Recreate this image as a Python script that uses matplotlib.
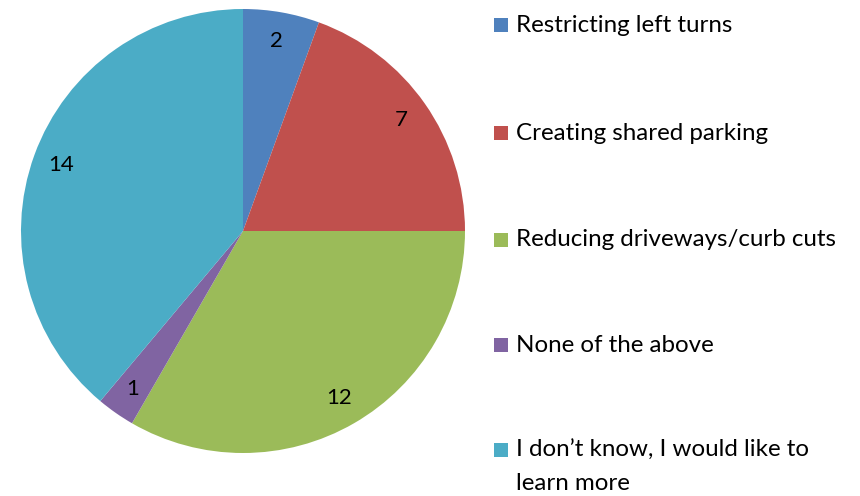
import matplotlib
matplotlib.use("Agg")
import matplotlib.pyplot as plt
from matplotlib.patches import Rectangle

categories = [
    "Restricting left turns",
    "Creating shared parking",
    "Reducing driveways/curb cuts",
    "None of the above",
    "I don\u2019t know, I would like to\nlearn more",
]
counts = [2, 7, 12, 1, 14]
colors = ["#4F81BD", "#C0504D", "#9BBB59", "#8064A2", "#4BACC6"]

plt.rcParams["font.family"] = ["Lato", "DejaVu Sans"]

W, H = 860, 496
fig = plt.figure(figsize=(W / 100, H / 100), dpi=100)
fig.patch.set_facecolor("white")

cx, cy, r = 243, 231, 222
ax = fig.add_axes([(cx - r) / W, (H - cy - r) / H, 2 * r / W, 2 * r / H])
wedges, texts = ax.pie(
    counts,
    colors=colors,
    startangle=90,
    counterclock=False,
    labels=[str(c) for c in counts],
    labeldistance=0.87,
    wedgeprops=dict(linewidth=0),
    textprops=dict(fontsize=16, color="black"),
)
for t in texts:
    t.set_horizontalalignment("center")
    t.set_verticalalignment("center")
ax.set_xlim(-1, 1)
ax.set_ylim(-1, 1)
ax.set_aspect("equal")
ax.axis("off")

# legend drawn as marker squares with labels, one row per category
legend_y = [25, 133, 240, 345, 450]
sq = 14
fs = 17.4
for cat, col, y in zip(categories, colors, legend_y):
    fig.patches.append(
        Rectangle((494 / W, (H - y - sq / 2) / H), sq / W, sq / H,
                  transform=fig.transFigure, facecolor=col, edgecolor="none")
    )
    lines = cat.split("\n")
    fig.text(516 / W, (H - y) / H, lines[0], fontsize=fs,
             ha="left", va="center", color="black")
    if len(lines) > 1:
        fig.text(516 / W, (H - y - 33) / H, lines[1], fontsize=fs,
                 ha="left", va="center", color="black")

fig.savefig("out.png", dpi=100)
